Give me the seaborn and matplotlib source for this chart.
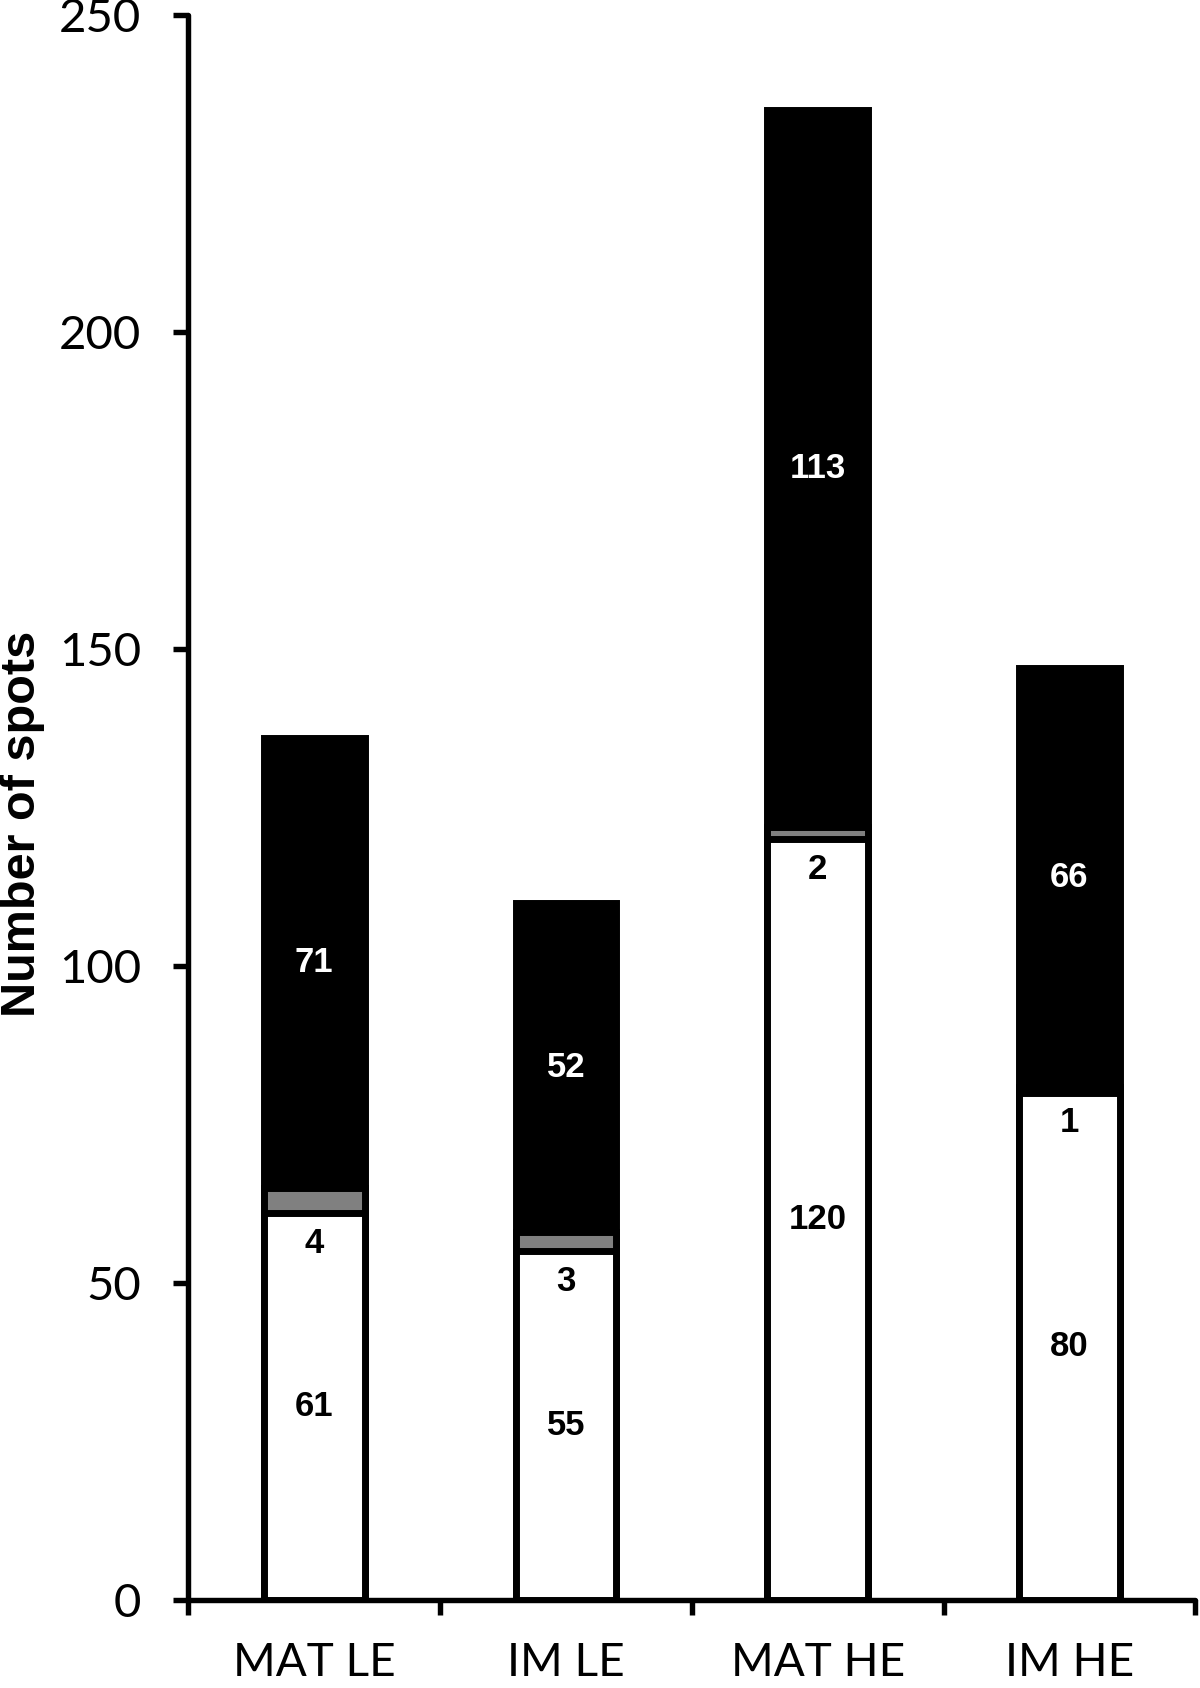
import numpy as np
import matplotlib
matplotlib.use('Agg')
import matplotlib.pyplot as plt
from matplotlib.ticker import FixedLocator
import seaborn as sns

sns.set_style('white')
plt.rcParams['font.family'] = ['Lato', 'DejaVu Sans']
plt.rcParams['axes.edgecolor'] = 'black'
plt.rcParams['xtick.color'] = 'black'
plt.rcParams['ytick.color'] = 'black'
plt.rcParams['text.color'] = 'black'
plt.rcParams['axes.labelcolor'] = 'black'

# Data
categories = ['MAT LE', 'IM LE', 'MAT HE', 'IM HE']
white_counts = [61, 55, 120, 80]
gray_counts = [4, 3, 2, 1]
black_counts = [71, 52, 113, 66]

white_counts = np.array(white_counts)
gray_counts = np.array(gray_counts)
black_counts = np.array(black_counts)

# cumulative heights for the stacked look
lower = white_counts
middle = white_counts + gray_counts
total = middle + black_counts

fig = plt.figure(figsize=(12, 16.88), dpi=100)
ax = fig.add_axes([0.157, 0.0521, 0.839, 0.939])

lw = 5
bar_kw = dict(width=0.4, edgecolor='black', linewidth=lw, saturation=1, ax=ax)
sns.barplot(x=categories, y=total, color='black', **bar_kw)
sns.barplot(x=categories, y=middle, color='#808080', **bar_kw)
sns.barplot(x=categories, y=lower, color='white', **bar_kw)

# segment labels
lab_kw = dict(ha='center', va='center', fontsize=25, fontweight='bold',
              family=['Liberation Sans', 'DejaVu Sans'])
for i in range(len(categories)):
    ax.text(i, lower[i] / 2, str(white_counts[i]), color='black', **lab_kw)
    ax.text(i, lower[i] - 4.7, str(gray_counts[i]), color='black', **lab_kw)
    ax.text(i, middle[i] + black_counts[i] / 2, str(black_counts[i]), color='white', **lab_kw)

ax.set_ylim(0, 250)
ax.set_xlim(-0.5, 3.5)
ax.set_yticks([0, 50, 100, 150, 200, 250])

# spines
for s in ['top', 'right']:
    ax.spines[s].set_visible(False)
for s in ['left', 'bottom']:
    ax.spines[s].set_linewidth(3.9)
    ax.spines[s].set_capstyle('round')

# ticks: y outward, x ticks at category boundaries
ax.tick_params(axis='y', direction='out', length=11, width=3.9, pad=23,
               labelsize=34, left=True)
ax.xaxis.set_minor_locator(FixedLocator([-0.5, 0.5, 1.5, 2.5, 3.5]))
ax.tick_params(axis='x', which='minor', direction='out', length=11, width=3.9, bottom=True)
ax.tick_params(axis='x', which='major', length=0, pad=30, labelsize=33)

ax.set_xlabel('')
ax.set_ylabel('Number of spots', fontsize=35, fontweight='bold',
              family=['Liberation Sans', 'DejaVu Sans'])
ax.yaxis.set_label_coords(-0.142, 0.49)

fig.savefig('out.png', dpi=100)
